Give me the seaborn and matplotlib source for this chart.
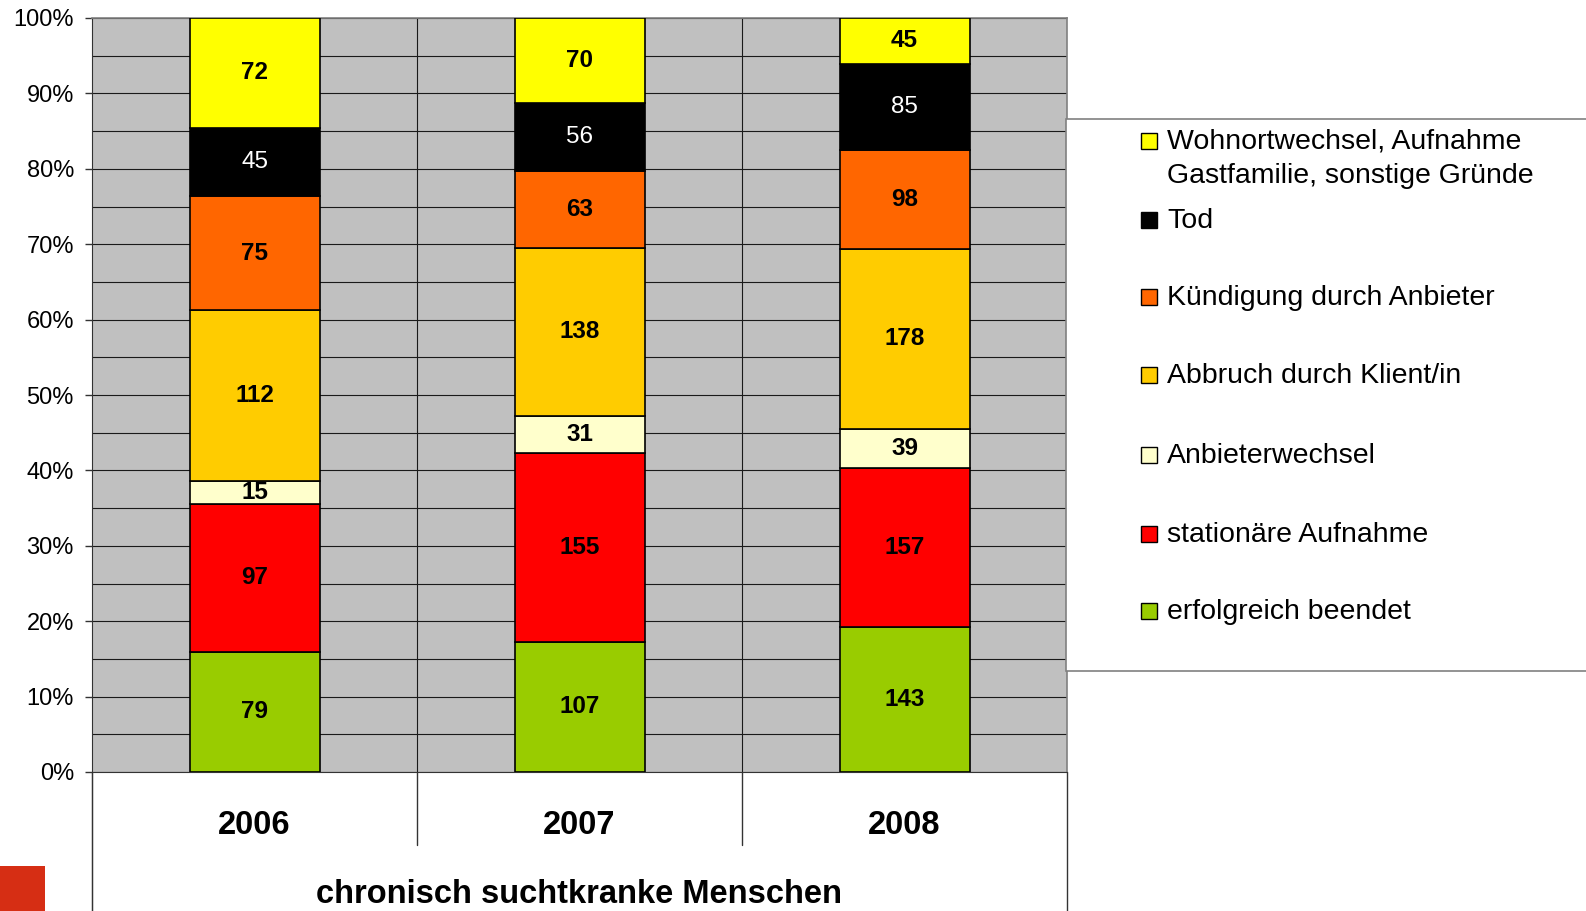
import matplotlib.pyplot as plt
import matplotlib.ticker as ticker
from matplotlib.patches import Rectangle
import numpy as np
import seaborn as sns


# Counts per year (bottom to top of each stacked bar)
years = ["2006", "2007", "2008"]
series_names = [
    "erfolgreich beendet",
    "stationäre Aufnahme",
    "Anbieterwechsel",
    "Abbruch durch Klient/in",
    "Kündigung durch Anbieter",
    "Tod",
    "Wohnortwechsel, Aufnahme\nGastfamilie, sonstige Gründe",
]
erfolgreich = [79, 107, 143]
stationaer = [97, 155, 157]
anbieterwechsel = [15, 31, 39]
abbruch = [112, 138, 178]
kuendigung = [75, 63, 98]
tod = [45, 56, 85]
wohnort = [72, 70, 45]

series_values = [erfolgreich, stationaer, anbieterwechsel, abbruch, kuendigung, tod, wohnort]
colors = ["#99CC00", "#FF0000", "#FFFFCC", "#FFCC00", "#FF6600", "#000000", "#FFFF00"]

x_title = "chronisch suchtkranke Menschen"

sns.set_style("white")
plt.rcParams["font.family"] = ["Liberation Sans", "DejaVu Sans"]
plt.rcParams["text.color"] = "black"
plt.rcParams["axes.labelcolor"] = "black"
plt.rcParams["xtick.color"] = "black"
plt.rcParams["ytick.color"] = "black"

W, H = 1586, 911
fig = plt.figure(figsize=(W / 100, H / 100), dpi=100)
ax = fig.add_axes([92 / W, (H - 772) / H, (1067 - 92) / W, 754 / H])
ax.set_facecolor("#C0C0C0")

counts = np.array(series_values, dtype=float)
totals = counts.sum(axis=0)
shares = counts / totals

bottom = np.zeros(len(years))
for name, vals, share, col in zip(series_names, series_values, shares, colors):
    sns.barplot(x=years, y=share, order=years, color=col, width=0.4,
                edgecolor="black", linewidth=1.2, bottom=bottom, ax=ax,
                saturation=1, errorbar=None, zorder=3)
    cont = ax.containers[-1]
    if col == "#000000":
        ax.bar_label(cont, labels=[str(v) for v in vals], label_type="center",
                     color="white", fontsize=17.5)
    else:
        ax.bar_label(cont, labels=[str(v) for v in vals], label_type="center",
                     color="black", fontsize=17.5, fontweight="bold")
    bottom = bottom + share

ax.set_xlim(-0.5, 2.5)
ax.set_ylim(0, 1)
ax.yaxis.set_major_locator(ticker.MultipleLocator(0.1))
ax.yaxis.set_minor_locator(ticker.MultipleLocator(0.05))
ax.yaxis.set_major_formatter(ticker.PercentFormatter(1.0, decimals=0))
ax.grid(which="both", axis="y", color="#1a1a1a", linewidth=0.8)
ax.set_axisbelow(True)
ax.tick_params(axis="y", which="major", length=5, width=1, color="#333333",
               labelsize=17, pad=8, left=True)
ax.tick_params(axis="y", which="minor", length=0)
ax.tick_params(axis="x", length=0, labelsize=23.5, pad=27)
for lab in ax.get_xticklabels():
    lab.set_fontweight("bold")
ax.set_ylabel("")
ax.set_xlabel(x_title, fontsize=23.5, fontweight="bold", labelpad=28)

for side in ["top", "right"]:
    ax.spines[side].set_color("#808080")
    ax.spines[side].set_linewidth(1.2)
ax.spines["left"].set_color("#333333")
ax.spines["bottom"].set_color("#333333")
ax.spines["left"].set_bounds(-0.184, 1)

# category separators inside the plot and below the axis
for xs in [0.5, 1.5]:
    ax.axvline(xs, ymin=0, ymax=1, color="#1a1a1a", linewidth=0.8, zorder=1)
    ax.axvline(xs, ymin=-0.097, ymax=0, color="#333333", linewidth=1.0, clip_on=False)
ax.axvline(-0.5, ymin=-0.184, ymax=0, color="#333333", linewidth=1.0, clip_on=False)
ax.axvline(2.5, ymin=-0.184, ymax=0, color="#333333", linewidth=1.0, clip_on=False)

# legend box on the right, running off the edge
fig.patches.append(Rectangle((1066 / W, (H - 671) / H), 0.5, (671 - 119) / H,
                             transform=fig.transFigure, facecolor="white",
                             edgecolor="#808080", linewidth=1.2, zorder=5))
legend_y = [141, 220, 297, 375, 455, 534, 611]
for name, col, yc in zip(series_names[::-1], colors[::-1], legend_y):
    fig.patches.append(Rectangle((1141 / W, (H - yc - 8) / H), 16 / W, 16 / H,
                                 transform=fig.transFigure, facecolor=col,
                                 edgecolor="black", linewidth=1.0, zorder=6))
    for k, line in enumerate(name.split("\n")):
        fig.text(1167 / W, (H - yc - 8 - 34 * k) / H, line, fontsize=20.5,
                 va="baseline", ha="left", zorder=7)

# red corner square
fig.patches.append(Rectangle((0, 0), 45 / W, 45 / H, transform=fig.transFigure,
                             facecolor="#D62E14", edgecolor="none", zorder=6))

fig.savefig("out.png", dpi=100)
